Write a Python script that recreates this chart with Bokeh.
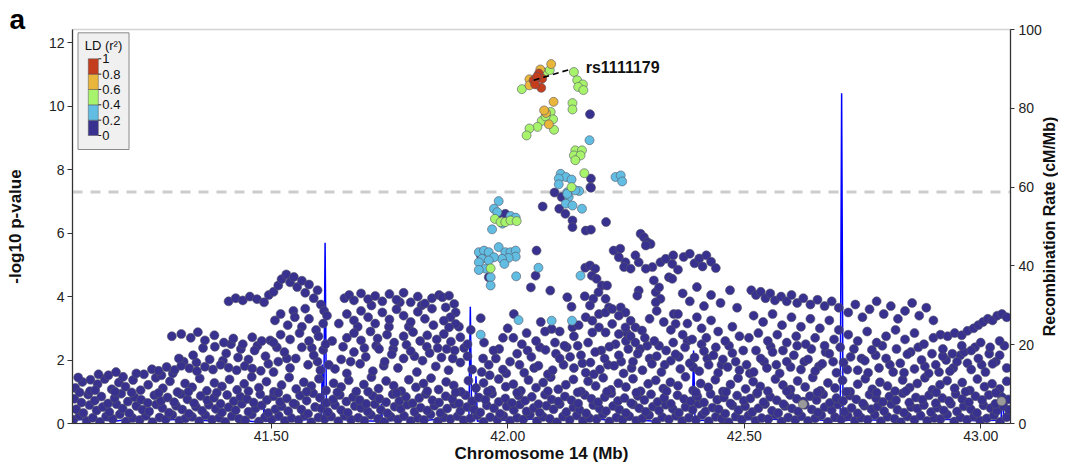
from bokeh.plotting import figure
from bokeh.layouts import row
from bokeh.models import (Range1d, LinearAxis, FixedTicker, Label, Span, NumeralTickFormatter)
from bokeh.core.properties import value
from bokeh.embed import file_html
from bokeh.resources import INLINE

# ---------------- data ----------------
ld_breaks = [0, 0.2, 0.4, 0.6, 0.8, 1]
ld_break_labels = ["0", "0.2", "0.4", "0.6", "0.8", "1"]
lead_snp = "rs1111179"
lead_pos, lead_logp = 42.055, 10.82
sig_threshold = 7.30

red_pos = [42.055, 42.066, 42.073, 42.071, 42.062, 42.058]
red_logp = [10.82, 11.03, 10.87, 10.58, 10.93, 10.69]

orange_pos = [42.092, 42.046, 42.046, 42.069, 42.097, 42.081, 42.087, 42.077]
orange_logp = [11.33, 10.85, 10.66, 11.16, 10.14, 9.79, 9.43, 9.87]

green_pos = [42.030, 42.078, 42.089, 42.140, 42.147, 42.159, 42.149, 42.160, 42.137, 42.137,
             42.091, 42.096, 42.072, 42.063, 42.046, 42.040, 42.098, 42.080, 42.143, 42.157,
             42.140, 42.154, 42.143, 42.162, 42.135, 41.973, 41.985, 41.995, 42.006, 42.019, 41.964]
green_logp = [10.54, 11.06, 11.14, 11.08, 10.82, 10.69, 10.61, 10.51, 10.10, 9.90,
              9.82, 9.59, 9.54, 9.35, 9.30, 9.08, 9.26, 9.68, 8.61, 8.61,
              8.45, 8.45, 8.30, 7.89, 7.45, 6.45, 6.35, 6.35, 6.40, 6.38, 4.89]

lblue_pos = [42.173, 42.112, 42.123, 42.135, 42.108, 42.108, 42.228, 42.239, 42.242, 42.126,
             42.151, 42.129, 41.981, 41.971, 41.978, 41.967, 42.006, 42.017, 41.989, 42.126,
             42.123, 42.137, 42.143, 42.157, 41.939, 41.950, 41.960, 41.981, 41.995, 42.006,
             42.017, 42.017, 42.002, 41.988, 41.971, 41.946, 41.939, 41.953, 41.939, 41.964,
             41.964, 41.993, 41.960, 42.018, 42.065, 42.023, 42.093, 42.136, 41.943, 42.154]
lblue_logp = [8.93, 7.87, 7.77, 7.69, 7.72, 7.54, 7.77, 7.82, 7.63, 7.29,
              7.33, 7.14, 7.01, 6.77, 6.66, 6.12, 6.54, 6.49, 6.30, 7.24,
              6.93, 6.87, 7.35, 6.77, 5.40, 5.45, 5.40, 5.56, 5.40, 5.40,
              5.45, 5.26, 5.22, 5.19, 5.24, 5.19, 5.08, 4.88, 4.84, 4.61,
              4.35, 5.03, 5.14, 4.64, 4.91, 3.26, 3.24, 3.24, 2.80, 4.66]

gray_snps = [(42.624, 0.61), (43.044, 0.70)]

navy_band_low = [
    (41.082,0.12),(41.095,0.25),(41.110,0.08),(41.123,0.18),(41.138,0.05),(41.151,0.22),(41.165,0.14),(41.180,0.29),(41.193,0.06),(41.207,0.17),
    (41.222,0.11),(41.235,0.24),(41.249,0.04),(41.264,0.19),(41.277,0.13),(41.291,0.27),(41.306,0.09),(41.319,0.16),(41.333,0.21),(41.348,0.07),
    (41.361,0.26),(41.375,0.12),(41.390,0.18),(41.403,0.05),(41.417,0.23),(41.432,0.15),(41.445,0.10),(41.459,0.28),(41.474,0.06),(41.487,0.20),
    (41.501,0.13),(41.516,0.24),(41.529,0.08),(41.543,0.17),(41.558,0.11),(41.571,0.26),(41.585,0.04),(41.600,0.19),(41.613,0.14),(41.627,0.22),
    (41.642,0.07),(41.655,0.25),(41.669,0.12),(41.684,0.18),(41.697,0.09),(41.711,0.27),(41.726,0.15),(41.739,0.05),(41.753,0.21),(41.768,0.13),
    (41.781,0.24),(41.795,0.08),(41.810,0.17),(41.823,0.11),(41.837,0.28),(41.852,0.06),(41.865,0.19),(41.879,0.14),(41.894,0.23),(41.907,0.10),
    (41.921,0.16),(41.936,0.26),(41.949,0.05),(41.963,0.20),(41.978,0.12),(41.991,0.24),(42.005,0.09),(42.020,0.18),(42.033,0.13),(42.047,0.27),
    (42.062,0.07),(42.075,0.21),(42.089,0.15),(42.104,0.04),(42.117,0.22),(42.131,0.11),(42.146,0.25),(42.159,0.08),(42.173,0.17),(42.188,0.14),
    (42.201,0.28),(42.215,0.06),(42.230,0.19),(42.243,0.12),(42.257,0.23),(42.272,0.09),(42.285,0.16),(42.299,0.26),(42.314,0.05),(42.327,0.20),
    (42.341,0.13),(42.356,0.24),(42.369,0.08),(42.383,0.18),(42.398,0.11),(42.411,0.27),(42.425,0.07),(42.440,0.21),(42.453,0.15),(42.467,0.04),
    (42.482,0.22),(42.495,0.12),(42.509,0.25),(42.524,0.09),(42.537,0.17),(42.551,0.14),(42.566,0.28),(42.579,0.06),(42.593,0.19),(42.608,0.11),
    (42.621,0.23),(42.635,0.08),(42.650,0.16),(42.663,0.26),(42.677,0.05),(42.692,0.20),(42.705,0.13),(42.719,0.24),(42.734,0.09),(42.747,0.18),
    (42.761,0.12),(42.776,0.27),(42.789,0.07),(42.803,0.21),(42.818,0.15),(42.831,0.04),(42.845,0.22),(42.860,0.11),(42.873,0.25),(42.887,0.08),
    (42.902,0.17),(42.915,0.14),(42.929,0.28),(42.944,0.06),(42.957,0.19),(42.971,0.12),(42.986,0.23),(42.999,0.09),(43.013,0.16),(43.028,0.26),
    (43.041,0.05),(43.055,0.20)]

navy_band_mid = [
    (41.088,0.45),(41.103,0.33),(41.116,0.58),(41.131,0.41),(41.144,0.52),(41.158,0.36),(41.173,0.61),(41.186,0.47),(41.200,0.32),(41.215,0.55),
    (41.228,0.43),(41.242,0.38),(41.257,0.60),(41.270,0.49),(41.284,0.34),(41.299,0.56),(41.312,0.44),(41.326,0.31),(41.341,0.53),(41.354,0.40),
    (41.368,0.59),(41.383,0.46),(41.396,0.35),(41.410,0.51),(41.425,0.42),(41.438,0.62),(41.452,0.37),(41.467,0.48),(41.480,0.57),(41.494,0.33),
    (41.509,0.45),(41.522,0.54),(41.536,0.39),(41.551,0.60),(41.564,0.44),(41.578,0.31),(41.593,0.52),(41.606,0.47),(41.620,0.36),(41.635,0.58),
    (41.648,0.42),(41.662,0.34),(41.677,0.55),(41.690,0.49),(41.704,0.38),(41.719,0.61),(41.732,0.43),(41.746,0.32),(41.761,0.53),(41.774,0.46),
    (41.788,0.59),(41.803,0.37),(41.816,0.50),(41.830,0.41),(41.845,0.56),(41.858,0.33),(41.872,0.47),(41.887,0.62),(41.900,0.39),(41.914,0.52),
    (41.929,0.44),(41.942,0.35),(41.956,0.57),(41.971,0.48),(41.984,0.31),(41.998,0.54),(42.013,0.42),(42.026,0.60),(42.040,0.38),(42.055,0.49),
    (42.068,0.34),(42.082,0.56),(42.097,0.45),(42.110,0.61),(42.124,0.36),(42.139,0.51),(42.152,0.43),(42.166,0.32),(42.181,0.58),(42.194,0.47),
    (42.208,0.39),(42.223,0.55),(42.236,0.44),(42.250,0.33),(42.265,0.60),(42.278,0.48),(42.292,0.37),(42.307,0.53),(42.320,0.41),(42.334,0.59),
    (42.349,0.46),(42.362,0.34),(42.376,0.52),(42.391,0.43),(42.404,0.62),(42.418,0.38),(42.433,0.50),(42.446,0.45),(42.460,0.31),(42.475,0.57),
    (42.488,0.42),(42.502,0.54),(42.517,0.36),(42.530,0.48),(42.544,0.61),(42.559,0.40),(42.572,0.33),(42.586,0.55),(42.601,0.47),(42.614,0.38),
    (42.628,0.59),(42.643,0.44),(42.656,0.35),(42.670,0.51),(42.685,0.42),(42.698,0.60),(42.712,0.37),(42.727,0.49),(42.740,0.32),(42.754,0.56),
    (42.769,0.45),(42.782,0.53),(42.796,0.39),(42.811,0.61),(42.824,0.43),(42.838,0.34),(42.853,0.52),(42.866,0.47),(42.880,0.58),(42.895,0.36),
    (42.908,0.50),(42.922,0.41),(42.937,0.62),(42.950,0.38),(42.964,0.54),(42.979,0.45),(42.992,0.33),(43.006,0.57),(43.021,0.48),(43.034,0.40),
    (43.048,0.55),(43.060,0.43)]

navy_band_high = [
    (41.084,0.78),(41.099,0.66),(41.113,0.91),(41.127,0.72),(41.141,0.85),(41.155,0.63),(41.169,0.80),(41.183,0.94),(41.197,0.69),(41.211,0.83),
    (41.225,0.75),(41.239,0.65),(41.253,0.89),(41.267,0.71),(41.281,0.82),(41.295,0.67),(41.309,0.93),(41.323,0.76),(41.337,0.64),(41.351,0.87),
    (41.365,0.73),(41.379,0.81),(41.393,0.62),(41.407,0.90),(41.421,0.70),(41.435,0.84),(41.449,0.77),(41.463,0.66),(41.477,0.92),(41.491,0.74),
    (41.505,0.86),(41.519,0.68),(41.533,0.79),(41.547,0.63),(41.561,0.88),(41.575,0.72),(41.589,0.95),(41.603,0.81),(41.617,0.65),(41.631,0.76),
    (41.645,0.90),(41.659,0.69),(41.673,0.83),(41.687,0.74),(41.701,0.62),(41.715,0.87),(41.729,0.78),(41.743,0.67),(41.757,0.92),(41.771,0.71),
    (41.785,0.84),(41.799,0.64),(41.813,0.80),(41.827,0.93),(41.841,0.73),(41.855,0.66),(41.869,0.86),(41.883,0.77),(41.897,0.63),(41.911,0.89),
    (41.925,0.70),(41.939,0.82),(41.953,0.75),(41.967,0.94),(41.981,0.68),(41.995,0.79),(42.009,0.65),(42.023,0.88),(42.037,0.72),(42.051,0.84),
    (42.065,0.61),(42.079,0.91),(42.093,0.76),(42.107,0.69),(42.121,0.85),(42.135,0.73),(42.149,0.63),(42.163,0.90),(42.177,0.78),(42.191,0.67),
    (42.205,0.83),(42.219,0.95),(42.233,0.71),(42.247,0.80),(42.261,0.64),(42.275,0.87),(42.289,0.74),(42.303,0.92),(42.317,0.68),(42.331,0.81),
    (42.345,0.62),(42.359,0.89),(42.373,0.77),(42.387,0.70),(42.401,0.85),(42.415,0.66),(42.429,0.93),(42.443,0.75),(42.457,0.82),(42.471,0.63),
    (42.485,0.88),(42.499,0.72),(42.513,0.79),(42.527,0.94),(42.541,0.67),(42.555,0.84),(42.569,0.73),(42.583,0.61),(42.597,0.90),(42.611,0.78),
    (42.625,0.69),(42.639,0.86),(42.653,0.74),(42.667,0.92),(42.681,0.65),(42.695,0.80),(42.709,0.71),(42.723,0.88),(42.737,0.76),(42.751,0.63),
    (42.765,0.91),(42.779,0.79),(42.793,0.68),(42.807,0.85),(42.821,0.73),(42.835,0.95),(42.849,0.66),(42.863,0.82),(42.877,0.75),(42.891,0.89),
    (42.905,0.64),(42.919,0.80),(42.933,0.71),(42.947,0.93),(42.961,0.77),(42.975,0.67),(42.989,0.86),(43.003,0.74),(43.017,0.90),(43.031,0.62),
    (43.045,0.83),(43.058,0.76)]

navy_band_top = [
    (41.086,1.12),(41.101,1.31),(41.117,1.02),(41.133,1.24),(41.148,1.40),(41.163,1.08),(41.178,1.29),(41.192,1.16),(41.208,1.37),(41.224,1.05),
    (41.240,1.22),(41.256,1.44),(41.271,1.11),(41.286,1.33),(41.302,0.99),(41.318,1.26),(41.333,1.14),(41.349,1.42),(41.364,1.03),(41.380,1.28),
    (41.396,1.17),(41.412,1.39),(41.428,1.06),(41.443,1.25),(41.459,1.47),(41.474,1.13),(41.490,1.32),(41.506,1.00),(41.522,1.21),(41.538,1.45),
    (41.553,1.09),(41.569,1.30),(41.585,1.18),(41.601,1.41),(41.616,1.04),(41.632,1.27),(41.648,1.15),(41.664,1.36),(41.680,1.01),(41.696,1.23),
    (41.712,1.46),(41.727,1.10),(41.743,1.34),(41.759,1.19),(41.775,1.02),(41.791,1.38),(41.806,1.14),(41.822,1.26),(41.838,1.43),(41.854,1.07),
    (41.870,1.31),(41.886,1.20),(41.901,1.00),(41.917,1.35),(41.933,1.12),(41.949,1.28),(41.965,1.05),(41.981,1.40),(41.996,1.16),(42.012,1.24),
    (42.028,1.03),(42.044,1.37),(42.060,1.13),(42.075,1.29),(42.091,1.46),(42.107,1.08),(42.123,1.22),(42.139,1.39),(42.155,1.01),(42.170,1.33),
    (42.186,1.18),(42.202,1.44),(42.218,1.06),(42.234,1.27),(42.250,1.15),(42.265,1.41),(42.281,1.02),(42.297,1.25),(42.313,1.36),(42.329,1.10),
    (42.344,1.30),(42.360,1.19),(42.376,1.47),(42.392,1.04),(42.408,1.26),(42.424,1.14),(42.439,1.38),(42.455,1.01),(42.471,1.23),(42.487,1.43),
    (42.503,1.09),(42.519,1.32),(42.534,1.17),(42.550,1.02),(42.566,1.40),(42.582,1.21),(42.598,1.07),(42.613,1.34),(42.629,1.15),(42.645,1.45),
    (42.661,1.03),(42.677,1.28),(42.692,1.12),(42.708,1.36),(42.724,1.00),(42.740,1.24),(42.756,1.41),(42.771,1.08),(42.787,1.30),(42.803,1.18),
    (42.819,1.02),(42.835,1.37),(42.850,1.13),(42.866,1.26),(42.882,1.44),(42.898,1.06),(42.914,1.22),(42.929,1.35),(42.945,1.11),(42.961,1.29),
    (42.977,1.04),(42.993,1.40),(43.008,1.16),(43.024,1.25),(43.040,1.09),(43.055,1.33)]

navy_mid_scatter = [
    (41.135,1.55),(41.172,1.62),(41.215,1.58),(41.248,1.71),(41.262,1.66),(41.279,1.78),(41.296,1.69),(41.310,1.82),(41.327,1.74),(41.343,1.65),
    (41.360,1.79),(41.377,1.70),(41.393,1.85),(41.410,1.76),(41.427,1.68),(41.444,1.81),(41.460,1.73),(41.478,1.66),(41.494,1.88),
    (41.305,2.05),(41.335,2.15),(41.370,2.02),(41.405,2.21),(41.430,2.08),(41.465,2.30),(41.488,2.12),
    (41.505,1.62),(41.515,1.95),(41.528,2.25),(41.540,1.75),(41.552,2.05),(41.565,2.40),(41.578,1.85),(41.590,2.15),(41.604,1.68),(41.610,2.32),
    (41.635,1.72),(41.648,2.02),(41.660,1.58),(41.675,2.25),(41.688,1.88),(41.700,2.10),(41.715,1.65),(41.728,2.35),(41.740,1.95),(41.755,2.18),
    (41.768,1.75),(41.780,2.05),(41.795,2.28),(41.808,1.62),(41.820,1.98),(41.835,2.22),(41.848,1.80),(41.860,2.08),(41.875,1.68),(41.888,2.30),
    (41.900,1.92),(41.915,2.12),(41.925,1.70),
    (41.945,1.62),(41.960,1.85),(41.975,2.05),(41.990,1.70),(42.005,1.95),(42.020,2.20),(42.035,1.60),(42.050,2.10),(42.065,1.82),(42.080,2.32),
    (42.095,1.68),(42.110,2.05),(42.125,2.40),(42.140,1.75),(42.155,2.15),
    (42.165,1.60),(42.175,1.92),(42.185,2.25),(42.195,1.70),(42.205,2.05),(42.215,2.42),(42.225,1.82),(42.235,2.15),(42.245,1.58),(42.255,2.35),
    (42.265,1.95),(42.275,2.20),(42.285,1.68),(42.295,2.45),(42.305,1.88),(42.315,2.12),(42.325,1.62),(42.335,2.30),(42.345,1.98),(42.355,2.18),
    (42.365,1.72),(42.375,2.40),(42.385,1.90),(42.395,2.08),(42.405,1.65),(42.415,2.28),(42.425,1.85),(42.435,2.15),(42.445,1.60),(42.455,2.02),
    (42.465,1.78),(42.475,2.22),(42.490,1.68),
    (42.505,1.85),(42.520,1.62),(42.535,2.05),(42.548,1.75),(42.560,2.25),(42.575,1.58),(42.590,1.95),(42.605,2.15),(42.620,1.70),(42.635,2.02),
    (42.650,1.65),(42.665,1.88),(42.680,2.20),(42.695,1.60),(42.710,1.92),(42.725,2.10),(42.740,1.68),(42.755,1.98),(42.770,2.32),(42.785,1.75),
    (42.800,2.05),(42.815,1.62),(42.830,1.90),(42.845,2.18),(42.860,1.72),(42.875,2.00),(42.890,1.58),(42.905,1.85),(42.920,2.12),(42.935,1.65),
    (42.950,1.95),(42.965,2.25),(42.980,1.70),(42.995,2.05),(43.010,1.62),(43.025,1.88),(43.040,2.15),(43.055,1.75)]

navy_fill = [
    (41.092,1.45),(41.118,1.38),(41.156,1.52),(41.187,1.47),(41.231,1.55),(41.268,1.52),(41.292,1.58),(41.315,1.95),(41.342,1.92),(41.356,2.38),
    (41.381,2.42),(41.398,1.98),(41.415,2.50),(41.436,2.35),(41.452,2.02),(41.471,2.45),(41.498,2.62),(41.512,2.40),(41.533,2.05),(41.547,3.55),
    (41.572,3.62),(41.586,2.38),(41.598,1.95),(41.622,1.85),(41.629,2.60),(41.643,3.15),(41.652,2.42),(41.668,1.95),(41.683,3.05),(41.697,2.38),
    (41.712,3.72),(41.722,2.45),(41.738,1.82),(41.749,3.05),(41.758,2.35),(41.772,3.82),(41.786,2.48),(41.791,3.05),(41.803,2.12),(41.818,3.72),
    (41.829,2.42),(41.843,3.10),(41.852,2.38),(41.871,2.35),(41.884,2.05),(41.897,3.05),(41.908,2.38),(41.922,2.95),
    (41.948,2.05),(41.962,1.52),(41.982,2.35),(41.997,1.58),(42.012,2.70),(42.025,1.85),(42.042,2.30),(42.056,1.75),(42.068,2.40),(42.085,1.55),
    (42.102,2.20),(42.118,1.85),(42.132,2.10),(42.148,2.45),(42.158,1.90),
    (42.170,2.55),(42.182,1.55),(42.198,2.30),(42.212,1.85),(42.228,2.50),(42.240,1.95),(42.252,2.85),(42.262,1.75),(42.280,2.35),(42.300,2.05),
    (42.320,2.45),(42.332,1.85),(42.350,2.55),(42.362,2.10),(42.380,2.60),(42.392,1.78),(42.410,2.50),(42.422,2.05),(42.440,2.40),(42.452,1.85),
    (42.468,2.45),(42.482,1.95),(42.498,2.30),
    (42.512,1.58),(42.525,2.30),(42.542,1.95),(42.556,2.42),(42.568,1.85),(42.582,2.30),(42.598,1.78),(42.612,2.45),(42.627,1.95),(42.642,2.35),
    (42.658,1.80),(42.672,2.25),(42.688,1.95),(42.703,2.40),(42.718,1.70),(42.732,2.35),(42.748,2.05),(42.762,1.60),(42.778,2.15),(42.792,2.45),
    (42.808,1.85),(42.822,2.35),(42.838,1.60),(42.852,2.25),(42.868,2.40),(42.882,1.80),(42.897,2.20),(42.912,1.62),(42.927,2.00),(42.942,1.75),
    (42.957,2.15),(42.972,1.90),(42.988,2.40),(43.002,1.85),(43.018,2.20),(43.032,1.95),(43.050,2.45),
    (41.095,0.98),(41.128,1.05),(41.170,1.00),(41.205,0.98),(41.262,0.96),(41.325,1.00),(41.385,0.97),(41.452,1.02),(41.515,0.97),(41.575,1.00),
    (41.640,0.98),(41.705,1.00),(41.765,0.96),(41.830,1.02),(41.890,0.98),(41.958,1.00),(42.020,0.97),(42.085,1.02),(42.148,0.98),(42.210,1.00),
    (42.272,0.97),(42.336,1.02),(42.398,0.98),(42.462,1.00),(42.528,0.97),(42.590,1.02),(42.655,0.98),(42.716,1.00),(42.780,0.97),(42.842,1.02),
    (42.906,0.98),(42.968,1.00),(43.032,0.97)]

navy_upper_left = [
    (41.290,2.75),(41.310,2.82),(41.330,2.70),(41.345,2.88),(41.360,2.62),(41.380,2.78),(41.400,2.55),(41.420,2.68),(41.440,2.50),(41.460,2.72),(41.480,2.60),
    (41.410,3.85),(41.425,3.95),(41.440,3.88),(41.455,4.00),(41.470,3.92),(41.485,3.82),(41.495,4.05),
    (41.505,4.15),(41.515,4.35),(41.522,4.55),(41.532,4.70),(41.540,4.45),(41.548,4.62),(41.555,4.30),(41.565,4.50),(41.572,4.12),(41.580,4.38),
    (41.590,3.95),(41.598,4.20),(41.605,3.75),(41.612,3.55),(41.618,3.40),
    (41.508,3.25),(41.520,3.45),(41.535,3.10),(41.550,3.35),(41.565,3.05),(41.580,3.30),(41.595,2.95),(41.610,3.15),
    (41.505,2.55),(41.520,2.80),(41.540,2.65),(41.560,2.85),(41.580,2.60),(41.600,2.75),(41.615,2.50),
    (41.655,3.95),(41.665,4.05),(41.675,3.88),(41.690,4.10),(41.705,3.92),(41.720,4.02),(41.735,3.85),(41.750,4.08),(41.765,3.90),(41.780,4.12),
    (41.795,3.82),(41.810,4.00),(41.825,3.78),(41.840,3.95),(41.855,4.05),
    (41.660,3.45),(41.675,3.25),(41.690,3.55),(41.705,3.35),(41.720,3.15),(41.735,3.50),(41.750,3.28),(41.765,3.60),(41.780,3.40),(41.795,3.20),
    (41.810,3.52),(41.825,3.30),(41.840,3.62),
    (41.660,2.70),(41.675,2.85),(41.690,2.62),(41.710,2.90),(41.725,2.68),(41.745,2.80),(41.760,2.55),(41.780,2.75),(41.800,2.88),(41.815,2.60),
    (41.830,2.78),(41.850,2.65),(41.865,2.82),(41.880,2.58),(41.900,2.72),(41.915,2.50),
    (41.862,3.98),(41.876,4.03),(41.887,3.77),(41.869,3.66),(41.890,3.50),(41.879,3.35),(41.865,3.24),(41.890,3.14),(41.876,3.03)]

navy_peak = [
    (42.174,9.75),(42.176,7.72),(42.175,7.45),(42.099,7.28),(42.114,7.14),(41.980,6.61),(41.995,6.61),(42.074,6.84),(42.109,6.77),(42.122,6.61),
    (42.137,6.40),(42.137,6.19),(42.165,6.08),(42.176,6.11),(42.208,6.35),(42.176,7.43),(41.960,4.61),(41.943,5.30),(42.061,5.45),(42.059,4.66),
    (42.049,4.29),(42.090,4.19),(42.126,3.98),(42.135,3.68),(42.163,4.01),(42.013,3.45),(42.137,3.03),(41.943,3.32),(42.093,2.98),(42.079,2.90),
    (41.950,2.55),(41.970,2.30),(41.990,2.70),(42.000,3.00),(42.030,2.50),(42.040,2.85),(42.060,2.60),(42.070,3.20),(42.100,2.55),(42.110,2.90),
    (42.120,2.45),(42.140,2.75),(42.150,3.10)]

navy_upper_right = [
    (42.224,5.45),(42.238,5.51),(42.235,5.24),(42.249,5.08),(42.246,4.93),(42.260,4.88),(42.281,5.98),(42.288,5.87),(42.295,5.72),(42.302,5.66),
    (42.292,5.61),(42.323,5.08),(42.334,5.19),(42.348,5.03),(42.341,4.61),(42.309,4.51),(42.306,4.93),(42.292,4.88),(42.277,5.08),(42.270,5.30),
    (42.164,4.91),(42.174,4.98),(42.185,4.88),(42.178,4.66),(42.188,4.56),(42.199,4.35),(42.192,4.14),(42.181,3.93),(42.174,3.72),(42.210,4.35),
    (42.207,3.93),(42.214,3.66),(42.277,4.19),(42.274,4.03),(42.313,4.14),(42.320,4.29),(42.323,3.93),(42.313,3.82),(42.348,4.56),(42.351,3.45),
    (42.355,3.14),(42.165,3.35),(42.179,3.24),(42.193,3.45),(42.207,3.50),(42.221,3.61),(42.239,3.66),(42.249,3.50),(42.235,3.40),(42.260,3.24),
    (42.270,3.03),(42.284,2.93),(42.249,3.03),(42.221,3.14),(42.193,3.03),(42.207,2.87),(42.235,2.82),(42.179,2.87),
    (42.300,3.30),(42.315,3.55),(42.330,3.20),(42.345,2.95),(42.360,3.45),(42.370,2.80),(42.380,3.15),(42.390,2.65),(42.400,3.35),(42.410,3.00),
    (42.420,2.70),(42.430,3.25),(42.445,2.90),(42.460,2.60),(42.475,3.05),(42.490,2.75),
    (42.250,2.60),(42.260,2.75),(42.270,2.55),(42.290,2.70),(42.310,2.60),
    (42.372,5.25),(42.385,5.35),(42.395,5.05),(42.405,5.20),(42.412,4.95),(42.420,5.30),(42.430,5.10),(42.440,4.90),(42.350,5.30),(42.360,4.85),
    (42.370,4.10),(42.385,3.85),(42.400,4.30),(42.415,3.70),(42.430,4.05),(42.450,3.80),(42.470,4.20),(42.485,3.65),
    (42.515,4.20),(42.525,4.05),(42.535,4.15),(42.545,3.95),(42.555,4.10),(42.565,3.88),(42.578,4.00),(42.590,3.85),(42.600,4.05),(42.612,3.80),
    (42.625,3.95),(42.640,3.75),(42.655,3.90),(42.670,3.70),(42.685,3.85),(42.700,3.65),
    (42.520,3.40),(42.540,3.20),(42.560,3.45),(42.580,3.10),(42.600,3.35),(42.620,3.05),(42.640,3.30),(42.660,3.00),(42.680,3.25),(42.700,2.95),
    (42.510,2.70),(42.530,2.85),(42.550,2.60),(42.570,2.80),(42.590,2.55),(42.610,2.75),(42.630,2.50),(42.650,2.70),(42.670,2.45),(42.690,2.65),
    (42.720,3.50),(42.735,3.75),(42.750,3.35),(42.765,3.60),(42.780,3.85),(42.795,3.45),(42.810,3.70),(42.825,3.30),(42.840,3.55),(42.855,3.80),
    (42.870,3.40),(42.885,3.65),(42.900,3.25),
    (42.720,2.80),(42.740,2.60),(42.760,2.90),(42.780,2.55),(42.800,2.75),(42.820,2.95),(42.840,2.65),(42.860,2.85),(42.880,2.50),(42.900,2.70),
    (42.915,2.80),(42.930,2.75),(42.945,2.85),(42.960,2.78),(42.972,2.92),(42.985,3.00),(42.995,3.10),(43.005,3.20),(43.015,3.30),(43.025,3.25),
    (43.035,3.40),(43.045,3.45),(43.055,3.35),
    (42.920,2.35),(42.940,2.20),(42.960,2.45),(42.980,2.30),(43.000,2.55),(43.020,2.40),(43.040,2.60)]

recomb_pos = [41.080, 41.120, 41.170, 41.220, 41.270, 41.320, 41.370, 41.420, 41.460, 41.483,
              41.485, 41.487, 41.520, 41.560, 41.600, 41.606, 41.608, 41.611, 41.614, 41.617,
              41.640, 41.690, 41.731, 41.733, 41.735, 41.780, 41.830, 41.880, 41.915, 41.918,
              41.921, 41.924, 41.930, 41.933, 41.936, 41.960, 42.010, 42.060, 42.110, 42.160,
              42.210, 42.260, 42.310, 42.360, 42.390, 42.393, 42.396, 42.440, 42.490, 42.540,
              42.590, 42.640, 42.680, 42.703, 42.706, 42.709, 42.740, 42.790, 42.840, 42.890,
              42.940, 42.990, 43.030, 43.043, 43.046, 43.049, 43.063]
recomb_rate = [0.8, 1.2, 0.6, 1.5, 0.9, 1.1, 0.7, 1.3, 0.5, 0.6,
               4.5, 0.5, 1.0, 0.8, 1.2, 1.0, 15.0, 1.0, 45.9, 0.9,
               1.1, 0.7, 0.6, 5.0, 0.6, 1.0, 0.8, 1.4, 0.9, 0.9,
               29.6, 0.8, 0.7, 12.0, 0.6, 1.0, 0.7, 1.2, 0.8, 1.5,
               0.9, 1.1, 0.6, 1.3, 0.8, 18.5, 0.7, 1.0, 0.8, 1.2,
               0.9, 1.1, 0.7, 0.6, 83.8, 0.7, 1.0, 0.8, 1.3, 0.9,
               1.1, 0.7, 0.8, 0.9, 9.0, 0.8, 1.0]

# ---------------- layout / style ----------------
FONT = "Liberation Sans"
C_NAVY, C_LBLUE, C_GREEN, C_ORANGE, C_RED = "#38318f", "#62bde2", "#a8f36c", "#e9b63b", "#c43d1c"
C_GRAY = "#9a9a9a"
PT = 9
X0, X1, Y0, Y1 = 41.080, 43.063, 0.0, 12.42
FW, FH = 938, 394
TOP, BOTTOM = 29, 40


def fx(dx):  # pixel offset from frame left -> data x
    return X0 + dx * (X1 - X0) / FW


def fy(dy):  # pixel offset from frame top -> data y
    return Y1 - dy * (Y1 - Y0) / FH


p = figure(frame_width=FW, frame_height=FH,
           x_range=Range1d(X0, X1), y_range=Range1d(Y0, Y1),
           output_backend="svg", toolbar_location=None,
           min_border_left=72, min_border_right=30, min_border_top=TOP, min_border_bottom=BOTTOM)
p.extra_y_ranges = {"recomb": Range1d(0, 100)}
p.xgrid.visible = False
p.ygrid.visible = False
p.outline_line_color = "#d4d4d4"
p.outline_line_width = 1.5

# panel letter as a left-shifted title
p.title.text = "a"
p.title.text_font = FONT
p.title.text_font_size = "28px"
p.title.text_font_style = "bold"
p.title.text_color = "black"
p.title.align = "left"
p.title.offset = -63
p.title.standoff = -10


def style_axis(ax, title_size="17px"):
    ax.axis_label_text_font = FONT
    ax.axis_label_text_font_style = "bold"
    ax.axis_label_text_font_size = title_size
    ax.axis_label_text_color = "#111111"
    ax.major_label_text_font = FONT
    ax.major_label_text_font_size = "14px"
    ax.major_label_text_color = "#222222"
    ax.axis_line_color = "#333333"
    ax.axis_line_width = 1.2
    ax.major_tick_line_color = "#333333"
    ax.major_tick_out = 5
    ax.major_tick_in = 0
    ax.minor_tick_out = 0
    ax.minor_tick_in = 0


p.xaxis.ticker = FixedTicker(ticks=[41.5, 42.0, 42.5, 43.0])
p.xaxis.formatter = NumeralTickFormatter(format="0.00")
p.xaxis.axis_label = "Chromosome 14 (Mb)"
p.xaxis.axis_label_standoff = 0
p.xaxis.major_label_standoff = 2
p.yaxis.ticker = FixedTicker(ticks=[0, 2, 4, 6, 8, 10, 12])
p.yaxis.axis_label = "-log10 p-value"
p.yaxis.axis_label_standoff = 21
p.yaxis.major_label_standoff = 3
style_axis(p.xaxis[0])
style_axis(p.yaxis[0])

raxis = LinearAxis(y_range_name="recomb", ticker=FixedTicker(ticks=[0, 20, 40, 60, 80, 100]))
style_axis(raxis)
raxis.major_tick_out = 4
raxis.major_label_standoff = 4
p.add_layout(raxis, "right")

p.add_layout(Span(location=sig_threshold, dimension="width", line_color="#cccccc",
                  line_width=3, line_dash="10 8", level="underlay"))

# recombination rate (drawn beneath the SNPs)
p.line(recomb_pos, recomb_rate, y_range_name="recomb", line_color="#0000ff", line_width=1.5)


def draw(pairs_or_xy, color, ys=None):
    if ys is None:
        xs = [a for a, b in pairs_or_xy]
        ys = [b for a, b in pairs_or_xy]
    else:
        xs = pairs_or_xy
    p.scatter(xs, ys, marker="circle", size=PT, fill_color=color, line_color="#555566",
              line_width=0.6)


for grp in [navy_band_low, navy_band_mid, navy_band_high, navy_band_top, navy_fill, navy_mid_scatter,
            navy_upper_left, navy_peak, navy_upper_right]:
    draw(grp, C_NAVY)
draw(gray_snps, C_GRAY)
draw(lblue_pos, C_LBLUE, lblue_logp)
draw(green_pos, C_GREEN, green_logp)
draw(orange_pos, C_ORANGE, orange_logp)
draw(red_pos, C_RED, red_logp)

# leader line + label for lead SNP
p.line([lead_pos, 42.131], [lead_logp, 11.16], line_color="black", line_width=1.6, line_dash="6 4")
p.add_layout(Label(x=42.165, y=11.21, text=lead_snp, text_font=FONT, text_font_style="bold",
                   text_font_size="16px", text_baseline="middle", text_color="#111111"))

# ---- LD legend (box, colour blocks, ticks, labels) ----
BOX_L, BOX_R, BOX_T, BOX_B = 5.5, 56.5, 3.3, 120.0
BAR_L, BAR_R, BAR_T, BAR_B = 15.8, 25.8, 29.3, 106.0
p.quad(left=[fx(BOX_L)], right=[fx(BOX_R)], top=[fy(BOX_T)], bottom=[fy(BOX_B)],
       fill_color="#f0f0f0", line_color="#8a8a8a", line_width=1)
ld_colors = [C_NAVY, C_LBLUE, C_GREEN, C_ORANGE, C_RED]
bar_h = BAR_B - BAR_T
p.quad(left=[fx(BAR_L)] * 5, right=[fx(BAR_R)] * 5,
       bottom=[fy(BAR_B - b * bar_h) for b in ld_breaks[:-1]],
       top=[fy(BAR_B - b * bar_h) for b in ld_breaks[1:]],
       fill_color=ld_colors, line_color="#555555", line_width=0.5)
p.segment(x0=[fx(BAR_R)] * 6, x1=[fx(BAR_R + 3)] * 6,
          y0=[fy(BAR_B - b * bar_h) for b in ld_breaks],
          y1=[fy(BAR_B - b * bar_h) for b in ld_breaks], line_color="#222222", line_width=1)
p.text(x=[fx(BAR_R + 4)] * 6, y=[fy(BAR_B - b * bar_h) for b in ld_breaks], text=ld_break_labels,
       text_font=value(FONT), text_font_size="13px", text_baseline="middle", text_align="left",
       text_color="#111111")
p.text(x=[fx((BOX_L + BOX_R) / 2)], y=[fy(16)], text=["LD (r\u00b2)"],
       text_font=value(FONT), text_font_size="13px", text_baseline="middle", text_align="center",
       text_color="#111111")

# ---- right-hand axis title (bottom-to-top, centred on the frame) ----
p2 = figure(frame_width=1, frame_height=FH, output_backend="svg", toolbar_location=None,
            min_border_left=0, min_border_right=0, min_border_top=TOP, min_border_bottom=BOTTOM,
            title="Recombination Rate (cM/Mb)", title_location="left")
p2.axis.visible = False
p2.grid.visible = False
p2.outline_line_color = None
p2.border_fill_alpha = 0
p2.background_fill_alpha = 0
p2.margin = (0, 0, 0, -6)
p2.title.align = "center"
p2.title.standoff = 0
p2.title.text_font = FONT
p2.title.text_font_style = "bold"
p2.title.text_font_size = "16px"
p2.title.text_color = "#111111"

layout = row(p, p2, spacing=0)
open("out.html", "w").write(file_html(layout, INLINE))
